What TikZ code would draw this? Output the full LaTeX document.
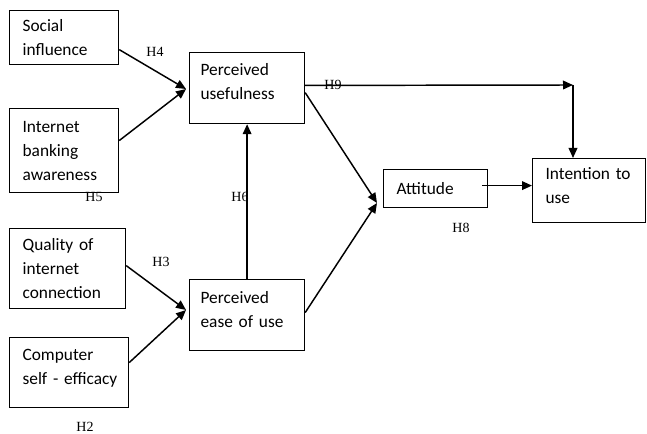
\documentclass[tikz,border=0pt]{standalone}
\usepackage{fontspec}
\setmainfont{Carlito}
\newfontfamily\hfont{Liberation Serif}
\usetikzlibrary{arrows.meta}
\newcommand{\upby}[1]{\rule[-#1]{0pt}{#1}}
\begin{document}
\begin{tikzpicture}[x=0.75pt,y=-0.75pt,
  box/.style={draw, line width=0.9pt, anchor=north west, align=left,
    inner xsep=9.75pt, inner ysep=0pt,
    font=\fontsize{13}{18}\selectfont},
  arr/.style={line width=1.1pt, -{Triangle[length=7.5pt,width=6.5pt]}},
  hlab/.style={font=\hfont\fontsize{10.5}{12}\selectfont, inner sep=0pt}]
\useasboundingbox (0,0) rectangle (647,434);
% boxes (x, y, w, h in px)
\node[box, text width={(109-26)*0.75pt}, minimum height={54*0.75pt}] (si) at (9,10) {\mbox{Social}\\\mbox{influence}};
\node[box, text width={(109-26)*0.75pt}, minimum height={84*0.75pt}] (iba) at (9,108) {\mbox{Internet}\\\mbox{banking}\\\mbox{awareness}};
\node[box, minimum height={71*0.75pt}, inner xsep=8.25pt, text width={(115-22)*0.75pt}] (pu) at (189,52) {\mbox{Perceived}\\\mbox{usefulness}\upby{10pt}};
\node[box, text width={(116-26)*0.75pt}, minimum height={80*0.75pt}] (qoi) at (9,228) {\mbox{Quality of}\\\mbox{internet}\\\mbox{connection}};
\node[box, text width={(119-26)*0.75pt}, minimum height={70*0.75pt}] (cse) at (9,337) {\mbox{Computer}\\\mbox{self - efficacy}\upby{9pt}};
\node[box, inner xsep=8.25pt, text width={(115-22)*0.75pt}, minimum height={71*0.75pt}] (peou) at (189,279) {\mbox{Perceived}\\\mbox{ease of use}\upby{9pt}};
\node[box, text width={(104-26)*0.75pt}, minimum height={38*0.75pt}] (att) at (383,169) {\mbox{Attitude}};
\node[box, text width={(113-26)*0.75pt}, minimum height={64*0.75pt}] (int) at (532,158) {\mbox{Intention to}\\\mbox{use}\upby{7pt}};
% merge points
\coordinate (m1) at (186,89);
\coordinate (m2) at (186,310);
\coordinate (m3) at (377,203);
\coordinate (c1) at (573,85);
% connectors
\draw[arr] ([yshift=-9pt]si.east) -- (m1);
\draw[arr] ([yshift=7.5pt]iba.east) -- (m1);
\draw[arr] ([yshift=2.25pt]qoi.east) -- (m2);
\draw[arr] ([yshift=7.5pt]cse.east) -- (m2);
\draw[arr] (peou.north) -- (pu.south);
\draw[arr] ([yshift=2pt]pu.east) -- (c1);
\draw[arr] (c1) -- (int.north -| c1);
\draw[arr] ([yshift=-3.4pt]pu.east) -- (m3);
\draw[arr] ([yshift=1.9pt]peou.east) -- (m3);
\coordinate (a1) at ([xshift=-4.5pt,yshift=2.25pt]att.east);
\draw[arr] (a1) -- (a1 -| int.west);
% labels
\node[hlab] (h4) at (155,52) {H4};
\node[hlab] (h5) at (94,197) {H5};
\node[hlab] (h6) at (240,197) {H6};
\node[hlab] (h3) at (161,262) {H3};
\node[hlab] (h2) at (85,427) {H2};
\node[hlab] (h9) at (333,85) {H9};
\node[hlab] (h8) at (461,228) {H8};
\end{tikzpicture}
\end{document}
